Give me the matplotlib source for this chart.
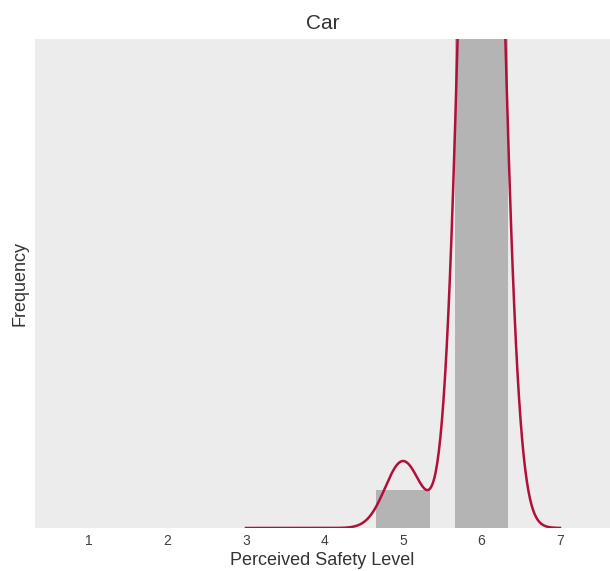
import numpy as np
import matplotlib
matplotlib.use("Agg")
import matplotlib.pyplot as plt

plt.rcParams['font.family'] = ['Liberation Sans', 'DejaVu Sans']

levels = [1, 2, 3, 4, 5, 6, 7]
counts = [0, 0, 0, 0, 2, 36, 0]
title = "Car"
bandwidth = 0.2266
kde_range = (3, 7)

fig = plt.figure(figsize=(6.10, 5.71), dpi=100)
ax = fig.add_axes([35/610, 43/571, 575/610, 489/571])
ax.set_facecolor('#ececec')
for s in ax.spines.values():
    s.set_visible(False)

ax.bar(levels, counts, width=0.68, color='#b4b4b4', zorder=2)

data = np.repeat(levels, counts)
xs = np.linspace(kde_range[0], kde_range[1], 400)
dens = np.exp(-0.5 * ((xs[:, None] - data[None, :]) / bandwidth) ** 2).sum(axis=1) / (bandwidth * np.sqrt(2 * np.pi))
ax.plot(xs, dens, color='#b0103a', lw=1.8, zorder=3)

ax.set_xlim(0.312, 7.637)
ax.set_ylim(0, 2 * 489 / 38)
ax.set_xticks(levels)
ax.set_xticklabels([str(l) for l in levels], fontsize=10, color='#404040')
ax.set_yticks([])
ax.tick_params(axis='x', length=0, pad=4)
ax.set_xlabel("Perceived Safety Level", fontsize=13, color='#333333', labelpad=3)
ax.set_ylabel("Frequency", fontsize=13, color='#333333', labelpad=5)
ax.set_title(title, fontsize=15, color='#333333', pad=7)

fig.savefig("out.png", dpi=100)
